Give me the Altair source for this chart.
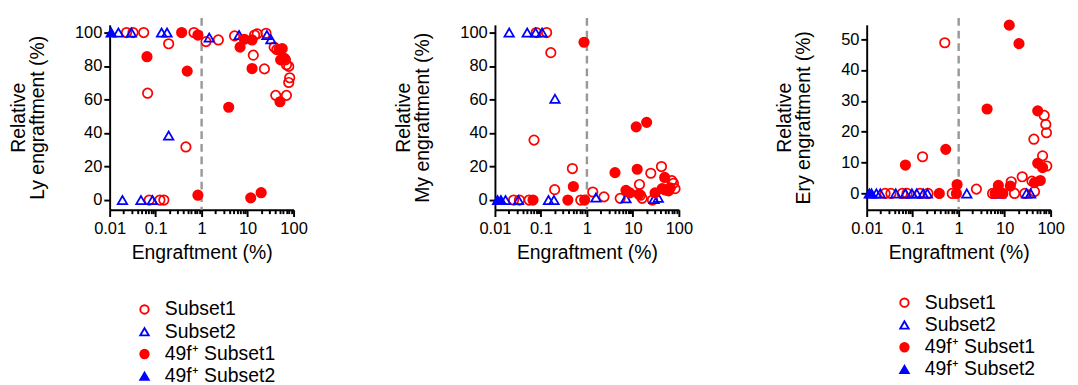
import altair as alt
import pandas as pd

GROUPS = ["Subset1", "Subset2", "49f⁺ Subset1", "49f⁺ Subset2"]
STROKES = ["#ff0000", "#0000ff", "#ff0000", "#0000ff"]
FILLS = ["transparent", "transparent", "#ff0000", "#0000ff"]
SHAPES = ["circle", "triangle-up", "circle", "triangle-up"]

# ---------------- Panel 1 : Ly ----------------
ly_s1_x = [0.0233, 0.0322, 0.055, 0.682, 0.192, 1.245, 2.31, 5.2, 14.2, 16.2, 25.1, 13.3, 23.2,
           37.8, 43, 66.6, 70, 78.4, 82.3, 78.4, 40.9, 70, 0.0669, 0.455, 0.0726, 0.124, 0.151]
ly_s1_y = [100, 100, 100, 100, 93.3, 94.6, 95.6, 98, 98.5, 99.2, 99.6, 86.5, 78.3,
           91.3, 89.8, 83.7, 80.8, 79.8, 73, 70.2, 62.5, 62.5, 63.8, 31.7, 0, 0, 0]
ly_s2_x = [0.0155, 0.0297, 0.1345, 0.177, 1.465, 6.53, 26.3, 32.1, 0.192, 0.019, 0.048, 0.0853]
ly_s2_y = [100, 100, 100, 100, 97, 98.5, 98.5, 96, 38.5, 0, 0, 0]
ly_f1_x = [0.368, 0.83, 0.0648, 0.486, 3.88, 6.86, 8.47, 12.5, 12.5, 56.6, 48.2, 52.3, 63.4,
           50.6, 0.83, 11.7, 19.7]
ly_f1_y = [100, 98.5, 85.6, 77, 55.4, 91.3, 96, 95.6, 78.5, 90.4, 89.8, 83.7, 84.6,
           58.7, 2.9, 1.3, 4.4]
ly_f2_x = [0.0108]
ly_f2_y = [100]

# ---------------- Panel 2 : My ----------------
my_s1_x = [0.079, 0.133, 0.164, 0.0707, 0.483, 0.199, 0.0255, 0.0341, 0.0554, 0.736, 1.34, 2.35,
           5.29, 13.9, 14.6, 15.9, 24.5, 41.8, 26.6, 70.2, 76, 82.4]
my_s1_y = [100, 100, 88, 35.8, 18.8, 6.2, 0, 0, 0, 0, 4.8, 1.9,
           1, 9.3, 2.9, 1, 16, 20, 0, 11.6, 10, 6.8]
my_s2_x = [0.0204, 0.0503, 0.0766, 0.106, 0.202, 0.017, 0.0325, 0.146, 0.192, 1.57, 7.07, 28.8, 35.6]
my_s2_y = [100, 100, 100, 100, 60.5, 0, 0, 0, 0, 1.5, 1, 0.6, 1.4]
my_f1_x = [0.865, 11.8, 19.9, 4.08, 12.4, 0.507, 49.1, 0.385, 0.0673, 0.893, 7.07, 8.58, 13.5,
           30.3, 43.2, 59.6, 64.7, 50.7]
my_f1_y = [94.2, 43.7, 46.4, 16.4, 18.4, 8.1, 13.5, 0, 0, 0, 5.8, 4.3, 3.5,
           4.3, 6.8, 5.5, 7.3, 6]
my_f2_x = [0.0114, 0.0135]
my_f2_y = [0, 0]

# ---------------- Panel 3 : Ery ----------------
ery_s1_x = [0.499, 0.164, 2.43, 43.2, 72.4, 78.5, 81.1, 66.8, 82.4, 24.1, 13.9, 39.2, 44.6,
            0.0251, 0.0336, 0.0592, 0.0753, 0.144, 0.215, 0.724, 5.46, 16.4, 27.5]
ery_s1_y = [48.9, 11.9, 1.4, 17.6, 25.3, 22.4, 19.7, 12.2, 8.9, 5.4, 3.8, 4, 0.6,
            0, 0, 0, 0, 0, 0, 0, 0, 0, 0]
ery_s2_x = [0.0162, 0.0197, 0.0428, 0.0695, 0.096, 0.122, 0.169, 0.209, 1.5, 6.95, 8.17, 29.8, 36.7]
ery_s2_y = [0, 0, 0, 0, 0, 0, 0, 0, 0, 0, 0, 0, 0]
ery_f1_x = [12.6, 20.5, 4.15, 0.524, 0.0695, 52.4, 52.4, 66.8, 59.6, 0.923, 7.3, 13.3,
            0.379, 0.893, 6.21, 9.15, 44.6]
ery_f1_y = [54.6, 48.6, 27.4, 14.3, 9.2, 26.8, 9.8, 8.4, 4.2, 2.9, 2.6, 2.4,
            0, 0, 0, 0, 3.5]
ery_f2_x = [0.0114, 0.0127]
ery_f2_y = [0, 0]

X_MAJOR = [0.01, 0.1, 1, 10, 100]
X_TICKS = sorted(set(X_MAJOR + [round(m * 10 ** e, 6) for e in range(-2, 2) for m in range(2, 10)]))

W, H = 190, 191


def frame(series):
    rows = []
    for g, xs, ys in series:
        for a, b in zip(xs, ys):
            rows.append({"x": a, "y": b, "group": g})
    return pd.DataFrame(rows)


def panel(series, ytitle, ydomain, yticks, lx, ly, rowpad):
    df = frame(series)
    legend = alt.Legend(title=None, orient="none", legendX=lx, legendY=ly,
                        labelFontSize=20, labelFont="Liberation Sans", labelColor="black",
                        symbolSize=75, symbolStrokeWidth=2, labelOffset=11, rowPadding=rowpad,
                        padding=0)
    xaxis = alt.Axis(values=X_TICKS, title="Engraftment (%)",
                     labelExpr="datum.value==0.01?'0.01':datum.value==0.1?'0.1':datum.value==1?'1':datum.value==10?'10':datum.value==100?'100':''",
                     tickSize={"condition": {"test": "indexof([0.01,0.1,1,10,100], datum.value) >= 0", "value": 7}, "value": 4},
                     labelPadding=5, titlePadding=6, labelFlush=False, labelOverlap=False)
    yaxis = alt.Axis(values=yticks, title=ytitle, tickSize=6, labelPadding=2, titlePadding=28,
                     titleLineHeight=20)
    pts = alt.Chart(df).mark_point(size=95, strokeWidth=1.8, opacity=1).encode(
        x=alt.X("x:Q", scale=alt.Scale(type="log", domain=[0.01, 100], nice=False), axis=xaxis),
        y=alt.Y("y:Q", scale=alt.Scale(domain=ydomain, nice=False, zero=False), axis=yaxis),
        shape=alt.Shape("group:N", scale=alt.Scale(domain=GROUPS, range=SHAPES), legend=legend),
        stroke=alt.Stroke("group:N", scale=alt.Scale(domain=GROUPS, range=STROKES), legend=legend),
        fill=alt.Fill("group:N", scale=alt.Scale(domain=GROUPS, range=FILLS), legend=legend),
    )
    rule = alt.Chart(pd.DataFrame({"v": [1]})).mark_rule(
        color="#999999", strokeWidth=2.5, strokeDash=[8, 5]
    ).encode(x=alt.datum(1), y=alt.value(-7), y2=alt.value(H))
    return alt.layer(rule, pts).properties(width=W, height=H)


p1 = panel([("Subset1", ly_s1_x, ly_s1_y), ("Subset2", ly_s2_x, ly_s2_y),
            ("49f⁺ Subset1", ly_f1_x, ly_f1_y), ("49f⁺ Subset2", ly_f2_x, ly_f2_y)],
           ["Relative", "Ly engraftment (%)"], [-5.8, 104.6], [0, 20, 40, 60, 80, 100], 26, 284, 3)
p2 = panel([("Subset1", my_s1_x, my_s1_y), ("Subset2", my_s2_x, my_s2_y),
            ("49f⁺ Subset1", my_f1_x, my_f1_y), ("49f⁺ Subset2", my_f2_x, my_f2_y)],
           ["Relative", "My engraftment (%)"], [-5.8, 104.6], [0, 20, 40, 60, 80, 100], 23, 285, 2)
p3 = panel([("Subset1", ery_s1_x, ery_s1_y), ("Subset2", ery_s2_x, ery_s2_y),
            ("49f⁺ Subset1", ery_f1_x, ery_f1_y), ("49f⁺ Subset2", ery_f2_x, ery_f2_y)],
           ["Relative", "Ery engraftment (%)"], [-5.3, 54.7], [0, 10, 20, 30, 40, 50], 29, 277, 3)

inner = alt.hconcat(p1, p2, spacing=88)
chart = alt.hconcat(inner, p3, spacing=84).resolve_scale(
    y="independent", x="independent", shape="independent", stroke="independent", fill="independent"
).resolve_legend(shape="independent", stroke="independent", fill="independent").configure(
    font="Liberation Sans"
).configure_view(stroke=None).configure_axis(
    grid=False, domainColor="black", domainWidth=2, tickColor="black", tickWidth=2,
    labelColor="black", titleColor="black", labelFontSize=17, titleFontSize=20,
    titleFontWeight="normal", labelFont="Liberation Sans", titleFont="Liberation Sans"
).configure_legend(labelFontSize=20).properties(padding={"left": 0, "top": 2, "right": 5, "bottom": 5})

chart.save("out.html", embed_options={"renderer": "svg", "actions": False})
